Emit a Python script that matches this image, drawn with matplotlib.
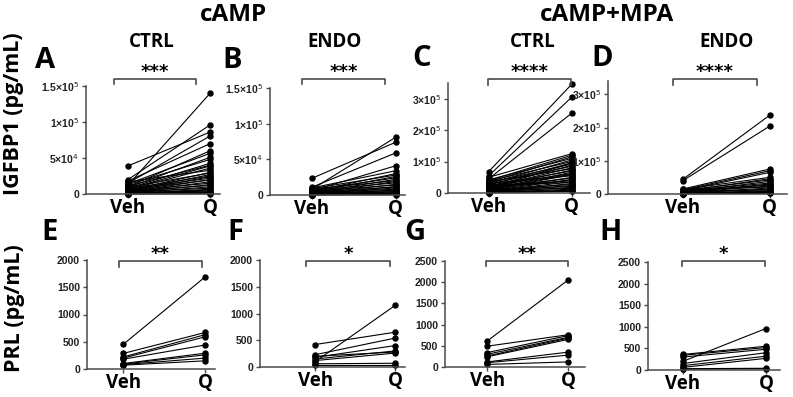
import numpy as np
import matplotlib.pyplot as plt
from matplotlib import transforms

# -------------------------
# Data (pg/mL), paired Veh -> Q
# -------------------------

groups = ["Veh", "Q"]

# A: IGFBP1, cAMP, CTRL
a_veh = [12000, 39000, 20000, 15000, 18000, 10000, 14000, 9000, 13000, 8000, 11000, 7000,
         6000, 17000, 5000, 9500, 4000, 7500, 3000, 6500, 2500, 5500, 2000, 4500, 1500,
         3500, 1000, 2800, 800, 600, 1800, 500, 400, 1200, 300, 200]
a_q = [140000, 86000, 96000, 80600, 70000, 60000, 56500, 51000, 48000, 42600, 40000, 39000,
       36000, 33000, 30000, 29000, 27000, 25000, 24000, 22000, 20000, 19500, 17000, 15000, 13000,
       12000, 10000, 8000, 6500, 5500, 4000, 3000, 2000, 1500, 1000, 500]

# B: IGFBP1, cAMP, ENDO
b_veh = [23400, 8000, 11000, 6000, 10000, 5000, 9000, 4000, 7000, 3000, 8500, 2000, 6500, 1500,
         5500, 1000, 4500, 800, 3500, 600, 2500, 400, 1800, 300, 1200, 200, 700, 100]
b_q = [74000, 81000, 59000, 41000, 34000, 30000, 28000, 26000, 24000, 22000, 20000, 19000, 17000,
       15000, 14000, 12000, 11000, 10000, 8000, 7000, 6000, 5000, 4000, 3000, 2000, 1500, 1000, 500]

# C: IGFBP1, cAMP+MPA, CTRL
c_veh = [68000, 55000, 45000, 50000, 40000, 35000, 42000, 30000, 38000, 25000, 33000, 20000,
         28000, 18000, 36000, 15000, 24000, 12000, 22000, 10000, 31000, 8000, 17000, 6000, 14000,
         5000, 26000, 4000, 11000, 3000, 9000, 2500, 7000, 2000, 1500, 1000, 500, 19000, 13000, 16000]
c_q = [346000, 305000, 254000, 125000, 120000, 115000, 110000, 105000, 100000, 96000, 92000,
       88000, 85000, 80000, 77000, 73000, 70000, 66000, 62000, 58000, 55000, 50000, 47000, 43000,
       40000, 36000, 33000, 30000, 27000, 24000, 21000, 18000, 15000, 12000, 9000, 7000, 5000,
       40000, 60000, 95000]

# D: IGFBP1, cAMP+MPA, ENDO
d_veh = [44000, 40000, 15000, 12000, 10000, 14000, 8000, 11000, 6000, 9000, 5000, 7000, 4000,
         13000, 3000, 2000, 8500, 1500, 1000, 500, 3500, 2500, 600]
d_q = [237000, 204000, 75000, 70000, 65000, 50000, 46000, 42000, 38000, 33000, 30000, 27000,
       24000, 21000, 18000, 15000, 12000, 10000, 8000, 6000, 5000, 3000, 2000]

# E: PRL, cAMP, CTRL
e_veh = [450, 285, 220, 200, 180, 100, 90, 80, 70]
e_q = [1690, 670, 630, 590, 440, 290, 260, 200, 150]

# F: PRL, cAMP, ENDO
f_veh = [100, 420, 230, 180, 150, 120, 60, 30, 200]
f_q = [1150, 650, 540, 400, 300, 260, 70, 30, 280]

# G: PRL, cAMP+MPA, CTRL
g_veh = [610, 490, 340, 300, 260, 240, 120, 100, 60]
g_q = [2050, 760, 740, 700, 680, 650, 350, 280, 120]

# H: PRL, cAMP+MPA, ENDO
h_veh = [200, 360, 340, 300, 150, 100, 60, 30, 20]
h_q = [960, 550, 520, 480, 400, 320, 270, 40, 30]

igf_ticks_1 = [0, 5e4, 1e5, 1.5e5]
igf_labels_1 = ["0", r"5×10$^4$", r"1×10$^5$", r"1.5×10$^5$"]
igf_ticks_2 = [0, 1e5, 2e5, 3e5]
igf_labels_2 = ["0", r"1×10$^5$", r"2×10$^5$", r"3×10$^5$"]
prl_ticks_1 = [0, 500, 1000, 1500, 2000]
prl_ticks_2 = [0, 500, 1000, 1500, 2000, 2500]

# -------------------------
# Figure
# -------------------------

W, H = 793, 397
fig = plt.figure(figsize=(W / 100, H / 100), dpi=100)

AX_COL = "#4a4a4a"
TITLE_FONT = "Open Sans"
TICK_FONT = "Liberation Sans"


def make_axes(box, xlim, ylim):
    left, right, top, bottom = box
    ax = fig.add_axes([left / W, 1 - bottom / H, (right - left) / W, (bottom - top) / H])
    ax.set_xlim(*xlim)
    ax.set_ylim(*ylim)
    return ax


def draw_panel(ax, veh, q, yticks, ylabels, bracket, stars):
    for v, w in zip(veh, q):
        ax.plot([0, 1], [v, w], "-o", color="black", lw=0.8, ms=3.6, clip_on=False)

    for s in ["top", "right"]:
        ax.spines[s].set_visible(False)
    for s in ["left", "bottom"]:
        ax.spines[s].set_color(AX_COL)
        ax.spines[s].set_linewidth(1.1)

    ax.set_xticks([0, 1])
    ax.set_xticklabels(groups, fontsize=13.5, fontweight="bold", family=TITLE_FONT)
    ax.set_yticks(yticks)
    ax.set_yticklabels(ylabels, fontsize=7.5, fontweight="bold", family=TICK_FONT)
    ax.tick_params(axis="both", colors=AX_COL, length=3, width=1)
    ax.tick_params(axis="x", labelcolor="black", pad=0)
    ax.tick_params(axis="y", labelcolor="#222222", pad=2)

    # significance bracket
    x0, x1, yb = bracket
    trans = transforms.blended_transform_factory(ax.transData, ax.transAxes)
    ax.plot([x0, x0, x1, x1], [yb - 0.05, yb, yb, yb - 0.05], color=AX_COL, lw=1.2,
            transform=trans, clip_on=False)
    ax.text((x0 + x1) / 2, yb - 0.015, stars, transform=trans, ha="center", va="bottom",
            fontsize=13, fontweight="bold", family="DejaVu Sans")


# top row
axA = make_axes((86, 220, 86, 194), (-0.51, 1.12), (0, 1.5e5))
draw_panel(axA, a_veh, a_q, igf_ticks_1, igf_labels_1, (-0.17, 0.83, 1.065), "***")

axB = make_axes((270, 405, 88, 195), (-0.5, 1.11), (0, 1.5e5))
draw_panel(axB, b_veh, b_q, igf_ticks_1, igf_labels_1, (-0.12, 0.87, 1.084), "***")

axC = make_axes((448, 590, 83, 193), (-0.49, 1.22), (0, 3.5e5))
draw_panel(axC, c_veh, c_q, igf_ticks_2, igf_labels_2, (-0.01, 0.99, 1.036), "****")

axD = make_axes((608, 787, 81, 194), (-0.86, 1.2), (0, 3.4e5))
draw_panel(axD, d_veh, d_q, igf_ticks_2, igf_labels_2, (-0.115, 0.86, 1.018), "****")

# bottom row
axE = make_axes((87, 215, 260, 369), (-0.44, 1.12), (0, 2000))
draw_panel(axE, e_veh, e_q, prl_ticks_1, prl_ticks_1, (-0.05, 0.96, 0.99), "**")

axF = make_axes((260, 405, 260, 367), (-0.69, 1.125), (0, 2000))
draw_panel(axF, f_veh, f_q, prl_ticks_1, prl_ticks_1, (-0.11, 0.94, 0.99), "*")

axG = make_axes((445, 585, 261, 367), (-0.52, 1.21), (0, 2500))
draw_panel(axG, g_veh, g_q, prl_ticks_2, prl_ticks_2, (-0.01, 1.0, 1.0), "**")

axH = make_axes((648, 780, 262, 370), (-0.42, 1.17), (0, 2500))
draw_panel(axH, h_veh, h_q, prl_ticks_2, prl_ticks_2, (-0.01, 0.99, 1.01), "*")

# -------------------------
# Titles, letters, y labels
# -------------------------


def ftext(x, y, s, size, **kw):
    fig.text(x / W, 1 - y / H, s, fontsize=size, fontweight="bold", family=TITLE_FONT,
             ha="center", va="center", **kw)


ftext(233, 15, "cAMP", 17.5)
ftext(607, 15, "cAMP+MPA", 17.5)
ftext(152, 42, "CTRL", 13.5)
ftext(335, 42, "ENDO", 13.5)
ftext(533, 42, "CTRL", 13.5)
ftext(727, 42, "ENDO", 13.5)

for letter, x, y in [("A", 45, 60), ("B", 232, 60), ("C", 422, 58), ("D", 602, 58),
                     ("E", 50, 232), ("F", 235, 232), ("G", 415, 233), ("H", 610, 233)]:
    ftext(x, y, letter, 21)

ftext(14, 114, "IGFBP1 (pg/mL)", 15.5, rotation=90)
ftext(15, 308, "PRL (pg/mL)", 15.5, rotation=90)

fig.savefig("out.png", dpi=100)
